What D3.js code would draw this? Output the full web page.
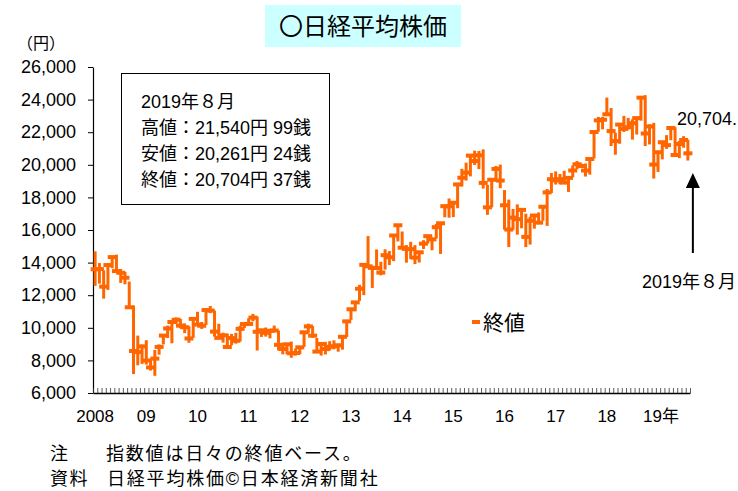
<!DOCTYPE html>
<html><head><meta charset="utf-8">
<script src="https://cdn.jsdelivr.net/npm/d3@7/dist/d3.min.js"></script>
<style>body{margin:0;background:#fff}svg{display:block}</style>
</head><body><svg id="c" width="738" height="491"></svg>
<script>
// Monthly Nikkei 225 (daily-close based), Jan 2008 – Aug 2019
const startYear = 2008;
const yearLabels = ["2008","09","10","11","12","13","14","15","16","17","18","19年"];
const closes = [
13592,13603,12525,13849,14338,13481,13376,13072,11259,8576,8512,8859,
7994,7568,8109,8828,9522,9958,10356,10492,10133,10034,9345,10546,
10198,10126,11089,11057,9768,9382,9537,8824,9369,9202,9937,10228,
10237,10624,9755,9849,9693,9816,9833,8955,8700,8988,8434,8455,
8802,9723,10083,9520,8542,9006,8695,8839,8870,8928,9446,10395,
11138,11559,12397,13860,13774,13677,13668,13389,14455,14327,15662,16291,
14914,14841,14828,14304,14632,15162,15621,15425,16174,16413,17460,17451,
17674,18798,19207,19520,20563,20236,20585,18890,17388,19083,19747,19034,
17518,16027,16759,16666,17235,15576,16569,16887,16450,17425,18308,19114,
19041,19119,18909,19197,19651,20033,19925,19646,20356,22012,22725,22765,
23098,22068,21454,22468,22202,22305,22554,22865,24120,21920,22351,20015,
20773,21385,21206,22259,20601,21276,21522,20704];
const highs = [
14691,13973,13523,13894,14338,14489,13603,13430,12834,11368,9521,8964,
9239,8076,8640,8981,9522,10135,10356,10639,10545,10267,10094,10638,
10982,10355,11089,11339,11057,10249,9696,9642,9626,9691,10125,10344,
10589,10857,10693,9849,10017,9868,10138,9833,9060,9050,9155,8724,
8841,9723,10255,10109,9380,9006,9136,9178,9232,9014,9458,10395,
11138,11559,12635,13884,15627,13807,14809,14050,14817,14713,15727,16291,
15908,15072,15274,15071,14632,15376,15646,15538,16374,16413,17490,17935,
17674,18798,19754,20133,20563,20868,20850,20946,18771,19083,19924,20012,
18450,17865,17291,17572,17235,17000,16810,16887,17081,17446,18513,19494,
19594,19437,19633,19197,19961,20230,20081,20080,20398,22012,22938,22939,
24124,23486,21969,22468,23003,22879,22794,22869,24120,24271,22488,22574,
20773,21464,21822,22259,22307,21462,21756,21541];
const lows = [
12573,12707,11787,12325,13653,13481,12754,12666,11259,7162,7703,7787,
7745,7376,7054,8351,8977,9379,9050,10253,9975,9674,9081,9385,
10198,9932,10172,10900,9459,9382,9091,8824,8927,9027,9159,9988,
10237,10399,8605,9441,9460,9351,9816,8619,8374,8382,8160,8296,
8378,8831,9698,9383,8542,8295,8365,8612,8680,8534,8661,9432,
10486,11013,11652,12004,13694,12445,13668,13219,13573,13853,14089,15299,
14914,13995,14224,13910,14006,14836,15164,14753,15476,14532,16780,16755,
16795,17335,18665,19034,19291,19990,19737,18540,16930,17389,19116,18565,
16017,14953,16012,15715,16106,14952,15106,16083,16360,16560,16251,18274,
18787,18805,18909,18335,19235,19734,19925,19280,19396,20400,22028,22177,
23098,21154,20617,21292,22017,22170,21546,21857,22707,21149,21250,19155,
19562,20333,20977,21505,20601,20410,21046,20261];
const yTicks = [6000,8000,10000,12000,14000,16000,18000,20000,22000,24000,26000];
const months = closes.map((_, i) => `${startYear + Math.floor(i/12)}-${String(i%12+1).padStart(2,"0")}`);
const infoLines = ["2019年８月","高値：21,540円 99銭","安値：20,261円 24銭","終値：20,704円 37銭"];

const ORANGE = "#ff6600";
const FONT = "'Liberation Sans', Arial, 'Noto Sans CJK JP', sans-serif";
const svg = d3.select("#c").style("font-family", FONT);

const x = d3.scaleBand().domain(months).range([93, 690]).padding(0);
const xm = d3.scaleLinear().domain([0, months.length]).range([93, 690]);
const y = d3.scaleLinear().domain([6000, 26000]).range([393, 67]);

// title
svg.append("rect").attr("x", 265).attr("y", 5).attr("width", 196).attr("height", 42).attr("fill", "#ccffff");
svg.append("text").attr("x", 363).attr("y", 35).attr("text-anchor", "middle")
  .attr("font-size", 24).attr("fill", "#000").text("〇日経平均株価");

// unit
svg.append("text").attr("x", 17).attr("y", 49).attr("font-size", 16).text("（円）");

// y axis
const ya = svg.append("g").attr("transform", "translate(93,0)")
  .call(d3.axisLeft(y).tickValues(yTicks).tickSize(5).tickSizeOuter(0).tickPadding(12).tickFormat(d3.format(",")));
ya.select(".domain").attr("stroke", "#000").attr("stroke-width", 1.2);
ya.selectAll(".tick line").attr("stroke", "#000");
ya.selectAll(".tick text").attr("font-size", 18).attr("font-family", FONT).attr("fill", "#000");

// x axis with monthly minor ticks
const xa = svg.append("g").attr("transform", "translate(0,393)")
  .call(d3.axisBottom(xm).tickValues(d3.range(0, months.length + 1)).tickSize(-5).tickSizeOuter(0).tickFormat(""));
xa.select(".domain").attr("stroke", "#000").attr("stroke-width", 1.5);
xa.selectAll(".tick line").attr("stroke", "#333").attr("stroke-width", 0.8);

// year labels at January bands
svg.append("g").selectAll("text").data(yearLabels).join("text")
  .attr("x", (d, i) => x(months[i*12]) + x.bandwidth()/2 + (i === yearLabels.length-1 ? 3 : 0))
  .attr("y", 422).attr("text-anchor", "middle").attr("font-size", 17).attr("fill", "#000")
  .text(d => d);

// high-low lines
const data = months.map((m, i) => ({m, h: highs[i], l: lows[i], c: closes[i]}));
svg.append("g").selectAll("line").data(data).join("line")
  .attr("x1", d => x(d.m) + x.bandwidth()/2).attr("x2", d => x(d.m) + x.bandwidth()/2)
  .attr("y1", d => y(d.h)).attr("y2", d => y(d.l))
  .attr("stroke", ORANGE).attr("stroke-width", 3);
// close dashes
svg.append("g").selectAll("rect").data(data).join("rect")
  .attr("x", d => x(d.m) + x.bandwidth()/2 - 4.5).attr("y", d => y(d.c) - 2)
  .attr("width", 9).attr("height", 4).attr("fill", ORANGE);

// info box
svg.append("rect").attr("x", 121.5).attr("y", 73.5).attr("width", 208).attr("height", 131)
  .attr("fill", "#fff").attr("stroke", "#000").attr("stroke-width", 1);
svg.append("g").selectAll("text").data(infoLines).join("text")
  .attr("x", 141).attr("y", (d, i) => 108 + i*26).attr("font-size", 18).attr("fill", "#000").text(d => d);

// last value label
svg.append("text").attr("x", 677).attr("y", 125).attr("font-size", 18).attr("fill", "#000")
  .text(d3.format(",")(closes[closes.length-1]) + ".");

// arrow
const ax = x(months[months.length-1]) + x.bandwidth()/2 + 5;
svg.append("line").attr("x1", ax).attr("x2", ax).attr("y1", 253).attr("y2", 185).attr("stroke", "#000").attr("stroke-width", 2);
svg.append("path").attr("d", `M${ax-7},188 L${ax+7},188 L${ax},173 Z`).attr("fill", "#000");
svg.append("text").attr("x", 642).attr("y", 288).attr("font-size", 18).attr("fill", "#000").text("2019年８月");

// legend
svg.append("rect").attr("x", 472).attr("y", 320).attr("width", 8).attr("height", 4).attr("fill", ORANGE);
svg.append("text").attr("x", 483).attr("y", 330).attr("font-size", 21).attr("fill", "#000").text("終値");

// footer
const notes = [["注", "指数値は日々の終値ベース。", 106, 460], ["資料", "日経平均株価©日本経済新聞社", 107, 485]];
notes.forEach(([a, b, bx, by]) => {
  svg.append("text").attr("x", 50).attr("y", by).attr("font-size", 18).attr("letter-spacing", 1.5).attr("fill", "#000").text(a);
  svg.append("text").attr("x", bx).attr("y", by).attr("font-size", 18).attr("letter-spacing", 1.8).attr("fill", "#000").text(b);
});
</script></body></html>
